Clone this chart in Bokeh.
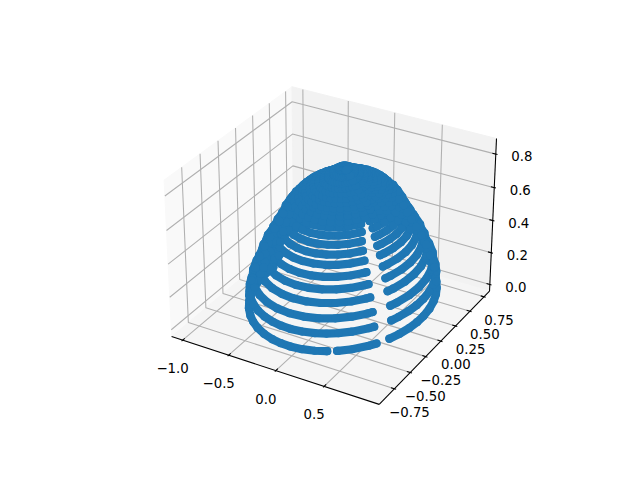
import numpy as np
from bokeh.plotting import figure
from bokeh.models import Range1d
from bokeh.core.properties import value
from bokeh.embed import file_html
from bokeh.resources import INLINE

# axis limits and ticks
x_limits = [-1.078, 1.012]
y_limits = [-0.947, 0.813]
z_limits = [-0.024, 0.873]
x_ticks = [-1.0, -0.5, 0.0, 0.5]
x_tick_labels = ["\u22121.0", "\u22120.5", "0.0", "0.5"]
y_ticks = [-0.75, -0.50, -0.25, 0.0, 0.25, 0.50, 0.75]
y_tick_labels = ["\u22120.75", "\u22120.50", "\u22120.25", "0.00", "0.25", "0.50", "0.75"]
z_ticks = [0.0, 0.2, 0.4, 0.6, 0.8]
z_tick_labels = ["0.0", "0.2", "0.4", "0.6", "0.8"]

# rings of the dome: height, relative radius, half width of the gap (deg)
ring_z = [0.069, 0.172, 0.250, 0.319, 0.383, 0.437, 0.488, 0.530, 0.573, 0.617, 0.649]
ring_r = [1.00, 0.99, 0.955, 0.89, 0.84, 0.78, 0.72, 0.665, 0.62, 0.59, 0.54]
ring_gap = [4.2, 5.6, 6.0, 6.3, 6.5, 6.8, 7.0, 7.0, 6.8, 6.0, 5.0]
# short pieces between the rings, on the two flanks of the dome
wall_z = [0.120, 0.211, 0.284, 0.351, 0.410, 0.462, 0.509, 0.551, 0.595, 0.633]
wall_r = [0.995, 0.97, 0.925, 0.875, 0.825, 0.765, 0.715, 0.665, 0.625, 0.575]
# closed rings at the top of the dome
cap_z = [0.669, 0.690, 0.706, 0.715, 0.730, 0.743, 0.757, 0.772, 0.790, 0.810, 0.830]
cap_r = [0.51, 0.47, 0.43, 0.40, 0.35, 0.31, 0.26, 0.21, 0.16, 0.11, 0.05]
ring_centre_x = 0.034
ring_centre_y = -0.008
ring_semi_x = 0.825
ring_semi_y = 0.852
low_left_angles = [175, 182, 190, 198, 205, 212, 220, 228, 235, 242, 250, 258, 265, 272, 280, 288, 295, 302, 310, 320]
low_right_angles = [-20, -12, -5, 2, 10, 18, 25, 32, 40, 50]
closed_angles = [-20, -10, 0, 10, 20, 30, 40, 50, 60, 70, 80, 90, 100, 110, 120, 130, 140, 150, 160, 170, 180,
                 190, 200, 210, 220, 230, 240, 250, 260, 270, 280, 290, 300, 310, 320]
wall_left_angles = [170, 185, 200, 215]
wall_right_angles = [30, 45, 60]
gap_centre = -31.0
small_gap = [-64.5, -58.7]
faint_x = [-0.97, -0.95]
faint_y = [0.10, 0.125]
faint_z = [0.03, 0.04]

W, H = 640, 480
BLUE = "#1f77b4"


def project(x, y, z):
    x, y, z = np.asarray(x, float), np.asarray(y, float), np.asarray(z, float)
    norm = np.sqrt(41.0)
    k = 1.8294640721620434 / norm
    asp = np.array([4, 4, 3]) * k
    wx = (x - x_limits[0]) / (x_limits[1] - x_limits[0]) * asp[0]
    wy = (y - y_limits[0]) / (y_limits[1] - y_limits[0]) * asp[1]
    wz = (z - z_limits[0]) / (z_limits[1] - z_limits[0]) * asp[2]
    R = asp / 2
    el, az, dist = np.radians(30), np.radians(-60), 10.0
    E = R + dist * np.array([np.cos(el) * np.cos(az), np.cos(el) * np.sin(az), np.sin(el)])
    w = (E - R) / np.linalg.norm(E - R)
    u = np.cross([0, 0, 1.0], w)
    u /= np.linalg.norm(u)
    v = np.cross(w, u)
    dx, dy, dz = wx - E[0], wy - E[1], wz - E[2]
    xe = u[0] * dx + u[1] * dy + u[2] * dz
    ye = v[0] * dx + v[1] * dy + v[2] * dz
    ze = w[0] * dx + w[1] * dy + w[2] * dz
    X, Y = xe / -ze, ye / -ze
    side = 369.6
    sx = 143.2 + (X + 0.095) / 0.185 * side
    sy = H - (52.8 + (Y + 0.095) / 0.185 * side)
    return sx, sy


dx4 = (x_limits[1] - x_limits[0]) / 48
dy4 = (y_limits[1] - y_limits[0]) / 48
dz4 = (z_limits[1] - z_limits[0]) / 48
x0, x1 = x_limits[0] - dx4, x_limits[1] + dx4
y0, y1 = y_limits[0] - dy4, y_limits[1] + dy4
z0, z1 = z_limits[0] - dz4, z_limits[1] + dz4

p = figure(width=624, height=464, x_range=Range1d(0, 624), y_range=Range1d(464, 0),
           output_backend="svg", toolbar_location=None, min_border=0,
           x_axis_location=None, y_axis_location=None)
p.grid.visible = False
p.outline_line_color = None


def pane(xs, ys, zs, color):
    sx, sy = project(xs, ys, zs)
    p.patch(list(sx), list(sy), fill_color=color, line_color=color, line_width=1)


pane([x0, x0, x0, x0], [y0, y1, y1, y0], [z0, z0, z1, z1], "#f9f9f9")
pane([x0, x1, x1, x0], [y1, y1, y1, y1], [z0, z0, z1, z1], "#f2f2f2")
pane([x0, x1, x1, x0], [y0, y0, y1, y1], [z0, z0, z0, z0], "#f5f5f5")


def poly(xs, ys, zs, color, lw):
    sx, sy = project(xs, ys, zs)
    p.line(list(sx), list(sy), line_color=color, line_width=lw)


GRID = "#b0b0b0"
for t in x_ticks:
    poly([t, t, t], [y0, y1, y1], [z0, z0, z1], GRID, 1.07)
for t in y_ticks:
    poly([x1, x0, x0], [t, t, t], [z0, z0, z1], GRID, 1.07)
for t in z_ticks:
    poly([x0, x0, x1], [y0, y1, y1], [t, t, t], GRID, 1.07)

poly([x0, x1], [y0, y0], [z0, z0], "black", 1.07)
poly([x1, x1], [y0, y1], [z0, z0], "black", 1.07)
poly([x1, x1], [y1, y1], [z0, z1], "black", 1.07)

dy_d = (y_limits[1] - y_limits[0]) / 12
dx_d = (x_limits[1] - x_limits[0]) / 12
for t in x_ticks:
    poly([t, t], [y0 - 0.1 * dy_d, y0 + 0.2 * dy_d], [z0, z0], "black", 1.07)
for t in y_ticks:
    poly([x1 + 0.1 * dx_d, x1 - 0.2 * dx_d], [t, t], [z0, z0], "black", 1.07)
for t in z_ticks:
    poly([x1 + 0.1 * dx_d, x1 - 0.2 * dx_d], [y1, y1], [t, t], "black", 1.07)

fx, fy = project(faint_x, faint_y, faint_z)
p.scatter(list(fx), list(fy), size=8, fill_color=BLUE, fill_alpha=0.45, line_color=None)

xs_all, ys_all = [], []


def add_arc(angles, rv, zv):
    th = np.radians(angles)
    rx = ring_centre_x + ring_semi_x * rv * np.cos(th)
    ry = ring_centre_y + ring_semi_y * rv * np.sin(th)
    sx, sy = project(rx, ry, np.full(len(th), zv))
    xs_all.append(list(sx))
    ys_all.append(list(sy))


for i, (zv, rv, g) in enumerate(zip(ring_z, ring_r, ring_gap)):
    end = 360 + gap_centre - g
    start = gap_centre + g
    if i == 0:
        e1, s1 = 360 + small_gap[0], 360 + small_gap[1]
        add_arc([a for a in low_left_angles if a < e1] + [e1], rv, zv)
        add_arc([s1] + [a for a in low_left_angles if s1 < a < end] + [end], rv, zv)
        add_arc([start] + [a for a in low_right_angles if a > start], rv, zv)
    elif i < 2:
        add_arc([a for a in low_left_angles if a < end] + [end], rv, zv)
        add_arc([start] + [a for a in low_right_angles if a > start], rv, zv)
    else:
        add_arc([start] + [a for a in closed_angles if start < a < end] + [end], rv, zv)
for zv, rv in zip(wall_z, wall_r):
    add_arc(wall_left_angles, rv, zv)
    add_arc(wall_right_angles, rv, zv)
for zv, rv in zip(cap_z, cap_r):
    add_arc(closed_angles + [330, 340], rv, zv)

p.multi_line(xs_all, ys_all, line_color=BLUE, line_width=8.2, line_cap="round", line_join="round")
p.scatter([v for s in xs_all for v in s], [v for s in ys_all for v in s], size=8.2,
          fill_color=BLUE, line_color=None)


def labels(xt, yt, zt, texts, ox, oy):
    sx, sy = project(xt, yt, zt)
    p.text(list(sx + ox), list(sy + oy), text=texts, text_font=value("DejaVu Sans"),
           text_font_size="13.33px", text_align="center", text_baseline="middle", text_color="black")


labels(x_ticks, [y0] * 4, [z0] * 4, x_tick_labels, -10, 28)
labels([x1] * 7, y_ticks, [z0] * 7, y_tick_labels, 15, 23)
labels([x1] * 5, [y1] * 5, z_ticks, z_tick_labels, 26, 2)

open("out.html", "w").write(file_html(p, INLINE))
